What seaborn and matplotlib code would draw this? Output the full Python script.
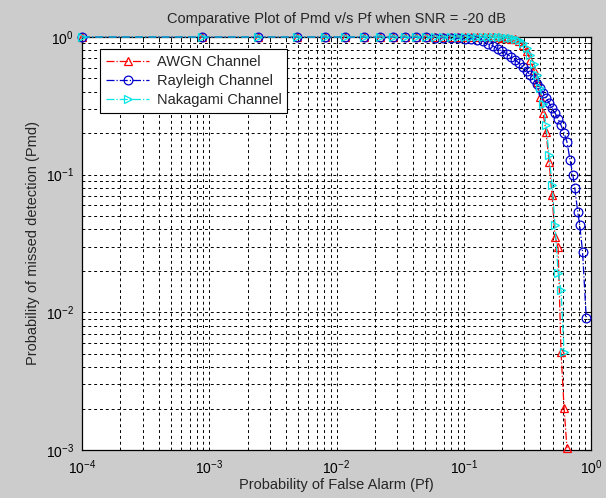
import matplotlib
matplotlib.use("Agg")
import matplotlib.pyplot as plt
import seaborn as sns
import pandas as pd
from matplotlib.ticker import LogLocator, NullFormatter

# ---- data ----
pf_awgn = [1e-4, 8.8e-4, 2.4e-3, 4.9e-3, 8.1e-3, 0.0117, 0.0164, 0.022, 0.0278, 0.0345,
           0.0422, 0.0505, 0.0594, 0.0687, 0.0794, 0.0902, 0.102, 0.114, 0.127, 0.142,
           0.155, 0.170, 0.186, 0.200, 0.219, 0.235, 0.253, 0.272, 0.292, 0.314,
           0.332, 0.357, 0.377, 0.398, 0.420, 0.443, 0.468, 0.494, 0.521, 0.551,
           0.581, 0.614, 0.647]
pmd_awgn = [1.0, 1.0, 1.0, 1.0, 1.0, 1.0, 1.0, 1.0, 1.0, 1.0,
            1.0, 1.0, 1.0, 1.0, 1.0, 1.0, 1.0, 1.0, 0.999, 0.998,
            0.997, 0.995, 0.993, 0.99, 0.985, 0.975, 0.967, 0.935, 0.875, 0.791,
            0.681, 0.576, 0.471, 0.367, 0.281, 0.204, 0.124, 0.0712, 0.0353, 0.0298,
            0.00515, 0.00202, 0.00103]

pf_rayleigh = [1e-4, 8.8e-4, 2.4e-3, 4.9e-3, 8.1e-3, 0.0117, 0.0164, 0.022, 0.0278, 0.0345,
               0.0422, 0.0505, 0.0594, 0.0687, 0.0794, 0.0902, 0.102, 0.114, 0.127, 0.142,
               0.155, 0.170, 0.186, 0.200, 0.219, 0.235, 0.253, 0.272, 0.292, 0.314,
               0.332, 0.357, 0.377, 0.398, 0.420, 0.443, 0.468, 0.494, 0.521, 0.551,
               0.581, 0.614, 0.647, 0.684, 0.72, 0.745, 0.786, 0.814, 0.858, 0.917]
pmd_rayleigh = [1.0, 1.0, 1.0, 1.0, 1.0, 0.999, 0.999, 0.998, 0.997, 0.996,
                0.995, 0.993, 0.99, 0.988, 0.985, 0.98, 0.975, 0.97, 0.955, 0.935,
                0.889, 0.86, 0.818, 0.791, 0.752, 0.716, 0.681, 0.647, 0.605, 0.566,
                0.530, 0.495, 0.456, 0.426, 0.392, 0.361, 0.331, 0.305, 0.281, 0.254,
                0.229, 0.201, 0.173, 0.128, 0.0995, 0.080, 0.0537, 0.0434, 0.0275, 0.0091]

pf_nakagami = [1e-4, 8.8e-4, 2.4e-3, 4.9e-3, 8.1e-3, 0.0117, 0.0164, 0.022, 0.0278, 0.0345,
               0.0422, 0.0505, 0.0594, 0.0687, 0.0794, 0.0902, 0.102, 0.114, 0.127, 0.142,
               0.155, 0.170, 0.186, 0.200, 0.219, 0.235, 0.253, 0.272, 0.292, 0.314,
               0.332, 0.357, 0.377, 0.398, 0.420, 0.443, 0.468, 0.494, 0.521, 0.551,
               0.581, 0.614]
pmd_nakagami = [1.0, 1.0, 1.0, 1.0, 1.0, 1.0, 1.0, 1.0, 1.0, 1.0,
                1.0, 1.0, 1.0, 1.0, 1.0, 1.0, 1.0, 1.0, 0.999, 0.998,
                0.997, 0.996, 0.995, 0.993, 0.99, 0.98, 0.97, 0.951, 0.905, 0.832,
                0.740, 0.637, 0.530, 0.426, 0.326, 0.229, 0.139, 0.0843, 0.0433, 0.0194,
                0.0145, 0.00515]

series_names = ["AWGN Channel", "Rayleigh Channel", "Nakagami Channel"]
x_ticks = [1e-4, 1e-3, 1e-2, 1e-1, 1e0]
y_ticks = [1e-3, 1e-2, 1e-1, 1e0]

title_text = "Comparative Plot of Pmd v/s Pf when SNR = -20 dB"
xlabel_text = "Probability of False Alarm (Pf)"
ylabel_text = "Probability of missed detection (Pmd)"

# ---- styling ----
sns.set_theme(style="white")
plt.rcParams["font.family"] = ["Liberation Sans", "DejaVu Sans"]
plt.rcParams["mathtext.fontset"] = "custom"
plt.rcParams["mathtext.rm"] = "Liberation Sans"
plt.rcParams["mathtext.it"] = "Liberation Sans"
plt.rcParams["mathtext.bf"] = "Liberation Sans"
plt.rcParams["mathtext.default"] = "regular"

fig = plt.figure(figsize=(6.06, 4.98), dpi=100, facecolor="#cccccc")
ax = fig.add_axes([0.1353, 0.0964, 0.840, 0.8293])
ax.set_facecolor("white")

styles = [
    (pf_awgn, pmd_awgn, "#ff0000", "^"),
    (pf_rayleigh, pmd_rayleigh, "#0000cc", "o"),
    (pf_nakagami, pmd_nakagami, "#00e5e5", ">"),
]
for (pf, pmd, col, mk), name in zip(styles, series_names):
    df = pd.DataFrame({"pf": pf, "pmd": pmd})
    sns.lineplot(data=df, x="pf", y="pmd", ax=ax, sort=False, estimator=None,
                 color=col, linestyle="-.", linewidth=0.9, marker=mk,
                 markersize=6.3, markerfacecolor="none", markeredgecolor=col,
                 markeredgewidth=0.9, label=name, clip_on=False, zorder=3)

ax.set_xscale("log")
ax.set_yscale("log")
ax.set_xlim(1e-4, 1)
ax.set_ylim(1e-3, 1)
ax.set_xticks(x_ticks)
ax.set_yticks(y_ticks)
ax.xaxis.set_minor_locator(LogLocator(base=10, subs=range(2, 10), numticks=20))
ax.yaxis.set_minor_locator(LogLocator(base=10, subs=range(2, 10), numticks=20))
ax.xaxis.set_minor_formatter(NullFormatter())
ax.yaxis.set_minor_formatter(NullFormatter())

ax.grid(True, which="both", color="black", linestyle=(0, (3, 3)), linewidth=0.7)
ax.set_axisbelow(True)
for sp in ax.spines.values():
    sp.set_visible(True)
    sp.set_color("black")
    sp.set_linewidth(0.9)

ax.tick_params(which="both", direction="in", top=True, right=True, colors="black",
               labelsize=10)
ax.tick_params(which="major", length=5, width=0.8)
ax.tick_params(axis="x", which="major", pad=6)
ax.tick_params(axis="y", which="major", pad=6)
ax.tick_params(which="minor", length=3, width=0.6)

ax.set_title(title_text, fontsize=10.5, pad=10)
ax.set_xlabel(xlabel_text, fontsize=10.5, labelpad=1)
ax.set_ylabel(ylabel_text, fontsize=10.5, labelpad=4)

leg = ax.legend(loc="upper left", bbox_to_anchor=(0.035, 0.97), fontsize=10.5,
                frameon=True, fancybox=False, framealpha=1, edgecolor="black",
                handlelength=3.0, borderaxespad=0, borderpad=0.4, labelspacing=0.35,
                handletextpad=0.5)
leg.get_frame().set_linewidth(0.8)

fig.savefig("out.png", dpi=100, facecolor=fig.get_facecolor())
